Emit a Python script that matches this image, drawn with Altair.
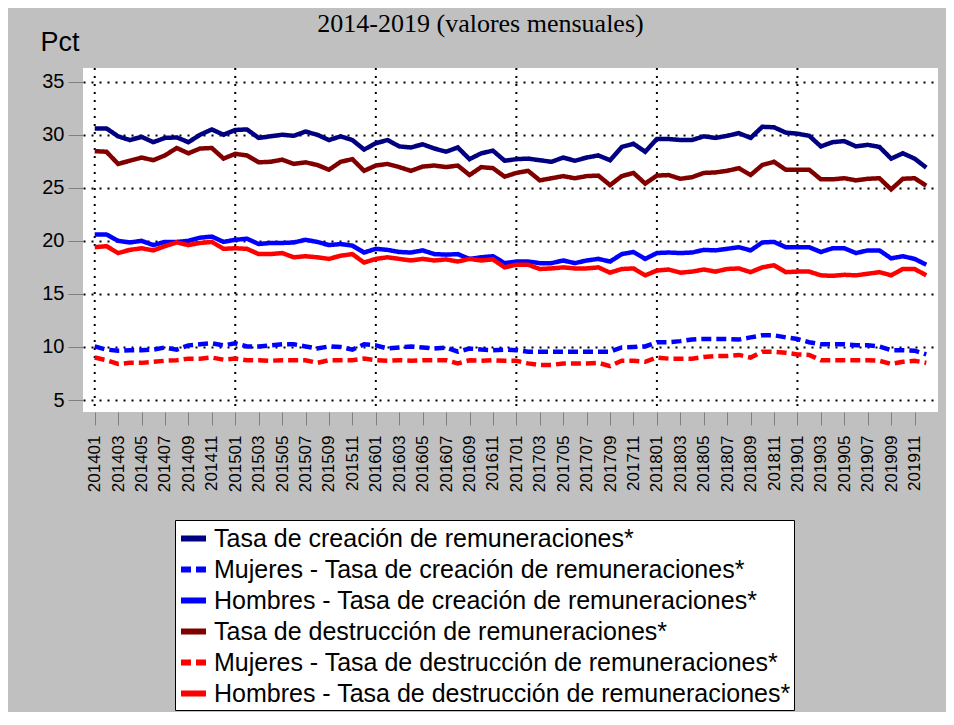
import altair as alt
import pandas as pd

months = [f"{y}{m:02d}" for y in range(2014, 2020) for m in range(1, 13)]
tick_labels = [m for i, m in enumerate(months) if i % 2 == 0]
year_starts = [m for m in months if m.endswith("01")]

series_names = [
    "Tasa de creación de remuneraciones*",
    "Mujeres - Tasa de creación de remuneraciones*",
    "Hombres - Tasa de creación de remuneraciones*",
    "Tasa de destrucción de remuneraciones*",
    "Mujeres - Tasa de destrucción de remuneraciones*",
    "Hombres - Tasa de destrucción de remuneraciones*",
]

creacion_total = [
    30.6, 30.6, 29.85, 29.5, 29.8, 29.3, 29.7, 29.75, 29.3, 30.0, 30.5, 30.0,
    30.45, 30.5, 29.7, 29.85, 30.0, 29.9, 30.3, 30.0, 29.5, 29.85, 29.5, 28.6,
    29.2, 29.5, 28.9, 28.8, 29.1, 28.7, 28.4, 28.8, 27.7, 28.25, 28.5, 27.55,
    27.7, 27.75, 27.6, 27.45, 27.85, 27.55, 27.85, 28.05, 27.6, 28.85, 29.15, 28.4,
    29.6, 29.6, 29.5, 29.5, 29.85, 29.7, 29.9, 30.15, 29.7, 30.75, 30.7, 30.2,
    30.1, 29.9, 28.9, 29.3, 29.4, 28.9, 29.05, 28.85, 27.75, 28.25, 27.75, 26.9,
]
creacion_mujeres = [
    10.05, 9.75, 9.65, 9.7, 9.7, 9.75, 9.95, 9.75, 10.15, 10.25, 10.35, 10.15,
    10.35, 10.05, 10.05, 10.15, 10.25, 10.25, 10.05, 9.85, 10.05, 10.0, 9.75, 10.25,
    10.15, 9.85, 9.95, 10.05, 9.95, 9.85, 9.95, 9.55, 9.85, 9.75, 9.7, 9.75,
    9.7, 9.55, 9.55, 9.55, 9.55, 9.55, 9.55, 9.55, 9.55, 9.95, 10.0, 10.05,
    10.45, 10.45, 10.55, 10.7, 10.75, 10.75, 10.75, 10.7, 10.9, 11.1, 11.1, 10.9,
    10.75, 10.45, 10.25, 10.25, 10.25, 10.15, 10.15, 10.05, 9.7, 9.7, 9.65, 9.3,
]
creacion_hombres = [
    20.6, 20.6, 20.0, 19.85, 20.0, 19.6, 19.9, 19.9, 20.0, 20.3, 20.4, 19.9,
    20.1, 20.2, 19.7, 19.8, 19.8, 19.85, 20.1, 19.9, 19.6, 19.7, 19.55, 18.9,
    19.25, 19.15, 18.95, 18.9, 19.1, 18.75, 18.7, 18.75, 18.3, 18.45, 18.55, 17.9,
    18.05, 18.05, 17.9, 17.9, 18.15, 17.9, 18.15, 18.3, 18.05, 18.75, 18.95, 18.3,
    18.85, 18.9, 18.85, 18.9, 19.15, 19.1, 19.25, 19.4, 19.1, 19.85, 19.9, 19.4,
    19.4, 19.4, 18.95, 19.3, 19.3, 18.85, 19.1, 19.1, 18.35, 18.55, 18.3, 17.75,
]
destruccion_total = [
    28.45, 28.4, 27.25, 27.55, 27.85, 27.6, 28.05, 28.75, 28.25, 28.7, 28.75, 27.75,
    28.2, 28.05, 27.4, 27.45, 27.65, 27.25, 27.4, 27.15, 26.7, 27.45, 27.7, 26.6,
    27.1, 27.25, 26.95, 26.6, 27.0, 27.1, 26.95, 27.1, 26.2, 26.95, 26.85, 26.05,
    26.4, 26.6, 25.7, 25.9, 26.1, 25.9, 26.1, 26.15, 25.25, 26.1, 26.4, 25.4,
    26.15, 26.2, 25.85, 26.0, 26.4, 26.45, 26.6, 26.85, 26.2, 27.15, 27.45, 26.7,
    26.7, 26.7, 25.8, 25.8, 25.9, 25.7, 25.85, 25.9, 24.85, 25.85, 25.9, 25.2,
]
destruccion_mujeres = [
    9.0, 8.75, 8.4, 8.5, 8.5, 8.6, 8.7, 8.75, 8.9, 8.9, 9.0, 8.8,
    8.9, 8.75, 8.75, 8.7, 8.75, 8.75, 8.75, 8.5, 8.75, 8.75, 8.75, 8.9,
    8.75, 8.7, 8.75, 8.7, 8.75, 8.75, 8.75, 8.45, 8.75, 8.7, 8.75, 8.7,
    8.7, 8.45, 8.3, 8.3, 8.45, 8.45, 8.45, 8.5, 8.2, 8.7, 8.7, 8.6,
    9.0, 8.9, 8.9, 8.9, 9.05, 9.15, 9.15, 9.25, 9.0, 9.55, 9.55, 9.45,
    9.3, 9.25, 8.75, 8.75, 8.75, 8.75, 8.75, 8.7, 8.4, 8.6, 8.7, 8.5,
]
destruccion_hombres = [
    19.4, 19.5, 18.85, 19.15, 19.3, 19.1, 19.5, 19.85, 19.6, 19.8, 19.9, 19.25,
    19.3, 19.25, 18.75, 18.75, 18.85, 18.45, 18.55, 18.45, 18.3, 18.6, 18.75, 17.95,
    18.3, 18.45, 18.3, 18.15, 18.3, 18.15, 18.25, 18.05, 18.3, 18.15, 18.25, 17.5,
    17.75, 17.75, 17.35, 17.4, 17.5, 17.4, 17.4, 17.5, 17.0, 17.35, 17.4, 16.75,
    17.2, 17.3, 17.0, 17.1, 17.3, 17.1, 17.35, 17.4, 17.05, 17.5, 17.7, 17.05,
    17.1, 17.1, 16.75, 16.7, 16.8, 16.75, 16.9, 17.05, 16.75, 17.35, 17.35, 16.75,
]

all_values = [creacion_total, creacion_mujeres, creacion_hombres,
              destruccion_total, destruccion_mujeres, destruccion_hombres]
colors = ["#000080", "#0000FF", "#0000FF", "#800000", "#FF0000", "#FF0000"]
dashes = [[1, 0], [10, 5], [1, 0], [1, 0], [10, 5], [1, 0]]

rows = []
for k, (name, vals) in enumerate(zip(series_names, all_values)):
    for mth, v in zip(months, vals):
        rows.append({"periodo": mth, "serie": name, "valor": v, "orden": k})
df = pd.DataFrame(rows)
grid_df = pd.DataFrame({"periodo": year_starts})

FONT = "Liberation Sans"

x_scale = alt.Scale(type="point", domain=months, padding=1.16)
x_axis = alt.Axis(
    values=tick_labels, labelAngle=270, labelFont=FONT, labelFontSize=17,
    labelColor="black", tickColor="#808080", tickSize=13, labelPadding=10,
    domain=False, grid=False, title=None,
)

vgrid = alt.Chart(grid_df).mark_rule(
    color="black", strokeWidth=2, strokeDash=[2, 6]
).encode(
    x=alt.X("periodo:O", scale=x_scale, axis=x_axis)
)

legend_kw = dict(
    title=None, orient="none", legendX=92, legendY=452,
    symbolType="stroke", symbolSize=625, symbolStrokeWidth=6,
    labelFont=FONT, labelFontSize=25, labelColor="black", labelLimit=800,
    labelOffset=5, rowPadding=2, padding=3,
    fillColor="white", strokeColor="black",
)

lines = alt.Chart(df).mark_line(strokeWidth=4.5).encode(
    x=alt.X("periodo:O", scale=x_scale, axis=x_axis),
    y=alt.Y(
        "valor:Q",
        scale=alt.Scale(domain=[3.87, 36.29], nice=False, zero=False),
        axis=alt.Axis(
            values=[5, 10, 15, 20, 25, 30, 35], labelFont=FONT, labelFontSize=20,
            labelColor="black", tickColor="#808080", tickSize=15, labelPadding=4,
            domain=False, grid=True, gridColor="black", gridDash=[2, 6], gridWidth=2,
            title="Pct", titleAngle=0, titleX=-43, titleY=-18, titleAlign="left",
            titleBaseline="alphabetic", titleFont=FONT, titleFontSize=27,
            titleFontWeight="normal", titleColor="black",
        ),
    ),
    color=alt.Color(
        "serie:N",
        scale=alt.Scale(domain=series_names, range=colors),
        legend=alt.Legend(**legend_kw),
    ),
    strokeDash=alt.StrokeDash(
        "serie:N",
        scale=alt.Scale(domain=series_names, range=dashes),
        legend=alt.Legend(**legend_kw),
    ),
    order=alt.Order("orden:Q"),
)

chart = alt.layer(vgrid, lines).properties(
    width=855,
    height=344,
    title=alt.TitleParams(
        "2014-2019 (valores mensuales)", font="Liberation Serif", fontSize=26,
        fontWeight="normal", color="black", anchor="middle", dx=-30, offset=-9,
    ),
    autosize=alt.AutoSizeParams(type="none"),
    padding={"left": 75, "top": 60, "right": 8, "bottom": 300},
    background="#C0C0C0",
).configure_view(
    fill="white", stroke=None
)

chart.save("out.html", embed_options={"renderer": "svg", "actions": False})
